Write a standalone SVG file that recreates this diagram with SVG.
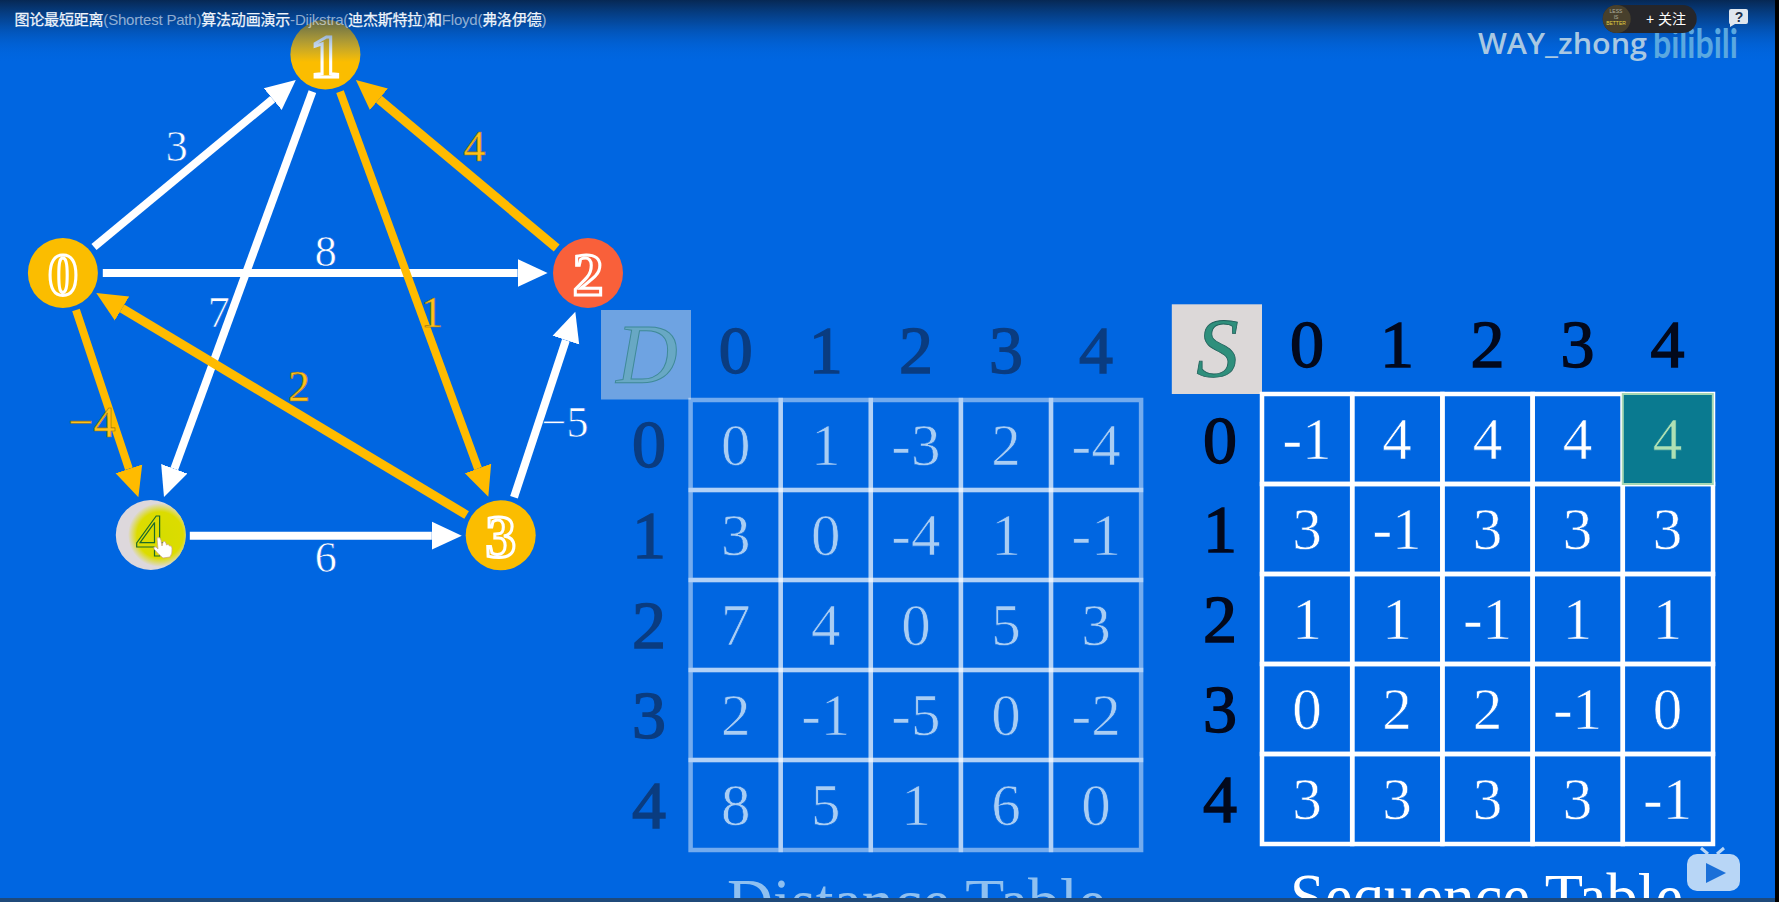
<svg xmlns="http://www.w3.org/2000/svg" width="1779" height="902" viewBox="0 0 1779 902">
<style>
.e{fill:none;stroke-width:8}
.w{stroke:#fff}
.g{stroke:#ffbb00}
.t{stroke-width:9}
text{font-family:"Liberation Serif","Noto Sans CJK SC",serif;text-anchor:middle}
.lb{font-size:44px;stroke:#0066e1;stroke-width:.6px}
.lw{fill:#fff}
.lg{fill:#ffc21a;stroke:#9a7410}
.nd{font-size:61px;font-weight:700;fill:#fbbd00;stroke:#fff;stroke-width:3px}
.nc{fill:#fbbd00}
.hd{font-size:68px;stroke-width:1.5px}
.dh{fill:#0a3c80;stroke:#0a3c80}
.sh{fill:#03091c;stroke:#03091c}
.cd{font-size:59px;fill:#a9cdf3;stroke:#0066e1;stroke-width:.7px}
.cs{font-size:59px;fill:#fff;stroke:#0066e1;stroke-width:.6px}
.dg{fill:none;stroke:#fff;stroke-opacity:.45;stroke-width:4.5}
.sg{fill:none;stroke:#fff;stroke-width:4.5}
.cap{font-size:68px}
.ui{font-family:"Liberation Sans","Noto Sans CJK SC",sans-serif}
</style>
<defs>
<marker id="hw" markerUnits="userSpaceOnUse" markerWidth="32" markerHeight="30" refX="0" refY="15" orient="auto"><path d="M0,1 L30,15 L0,29z" fill="#fff"/></marker>
<marker id="hg" markerUnits="userSpaceOnUse" markerWidth="32" markerHeight="30" refX="0" refY="15" orient="auto"><path d="M0,1 L30,15 L0,29z" fill="#ffbb00"/></marker>
<linearGradient id="top" x1="0" y1="0" x2="0" y2="1"><stop offset="0" stop-color="#07264f" stop-opacity=".97"/><stop offset=".35" stop-color="#07356f" stop-opacity=".6"/><stop offset="1" stop-color="#0066e1" stop-opacity="0"/></linearGradient>
<radialGradient id="yb" gradientUnits="userSpaceOnUse" cx="160" cy="535" r="32"><stop offset="0" stop-color="#d6dc00"/><stop offset=".72" stop-color="#dcdc00"/><stop offset="1" stop-color="#dcdc00" stop-opacity="0"/></radialGradient>
<clipPath id="c4"><circle cx="150.8" cy="535" r="35"/></clipPath>
</defs>
<rect width="1779" height="902" fill="#0066e1"/>

<g id="connectors">
<line class="e w" x1="94" y1="247" x2="272.7" y2="99.1" marker-end="url(#hw)"/>
<line class="e w" x1="102.8" y1="273" x2="517.6" y2="273" marker-end="url(#hw)"/>
<line class="e w" x1="312.4" y1="91.7" x2="174.3" y2="468.8" marker-end="url(#hw)"/>
<line class="e w" x1="514" y1="497.3" x2="565.9" y2="340.2" marker-end="url(#hw)"/>
<line class="e w" x1="189.8" y1="535.7" x2="431.8" y2="535.7" marker-end="url(#hw)"/>
<line class="e g" x1="340" y1="91.7" x2="478" y2="468.5" marker-end="url(#hg)"/>
<line class="e g t" x1="556.7" y1="248" x2="378.9" y2="99.3" marker-end="url(#hg)"/>
<line class="e g" x1="76" y1="310" x2="128.9" y2="468.8" marker-end="url(#hg)"/>
<line class="e g t" x1="466.6" y1="515" x2="122" y2="308.4" marker-end="url(#hg)"/>
</g>

<g id="edge-labels">
<text class="lb lw" x="176.7" y="160.7">3</text>
<text class="lb lg" x="474.5" y="160.7">4</text>
<text class="lb lw" x="325.8" y="265.7">8</text>
<text class="lb lw" x="218.7" y="326.7">7</text>
<text class="lb lg" x="432" y="326.7">1</text>
<text class="lb lg" x="299" y="401">2</text>
<text class="lb lg" x="92" y="436.7">−4</text>
<text class="lb lw" x="565" y="436.7">−5</text>
<text class="lb lw" x="325.8" y="571.7">6</text>
</g>

<g id="node-0"><circle class="nc" cx="62.9" cy="273" r="35"/><text class="nd" x="62.9" y="295">0</text></g>
<g id="node-1"><circle class="nc" cx="325.4" cy="54.5" r="35"/><text class="nd" x="325.4" y="76.7">1</text></g>
<g id="node-2"><circle fill="#f9603a" cx="588" cy="273" r="35"/><text class="nd" x="588" y="295" style="fill:#f9603a">2</text></g>
<g id="node-3"><circle class="nc" cx="500.7" cy="535.3" r="35"/><text class="nd" x="500.7" y="557">3</text></g>
<g id="node-4"><circle fill="#ddd8dc" cx="150.8" cy="535" r="35"/><circle fill="url(#yb)" cx="160" cy="535" r="32" clip-path="url(#c4)"/><text x="150.8" y="556" style="font-size:61px;fill:#dcdc00;stroke:#1c6a2a;stroke-width:1.2px">4</text>
<path d="M157,538 q3,-2 4,2 l1,6 1,-4 q2,-2 3,1 l.5,2 q2,-2 3,1 q2,-1 2.5,2 q.5,6 -2,9 l-7,1 q-4,-3 -9,-9 q-1,-3 2,-2 l2,2z" fill="#fff" stroke="#c9a080" stroke-width=".7"/></g>

<g id="distance-table">
<rect x="601" y="310" width="90" height="89.5" fill="#6ea3e2"/>
<text x="647" y="383" style="font-size:85px;font-style:italic;fill:#68a8c4;stroke:#3f8a98;stroke-width:1px">D</text>
<text class="hd dh" x="735.7" y="372.7">0</text><text class="hd dh" x="825.8" y="372.7">1</text><text class="hd dh" x="915.9" y="372.7">2</text><text class="hd dh" x="1006" y="372.7">3</text><text class="hd dh" x="1096.1" y="372.7">4</text>
<text class="hd dh" x="649" y="467">0</text><text class="hd dh" x="649" y="558">1</text><text class="hd dh" x="649" y="648">2</text><text class="hd dh" x="649" y="738">3</text><text class="hd dh" x="649" y="828">4</text>
<g class="dg">
<rect x="690.6" y="400" width="90.1" height="90"/><rect x="780.7" y="400" width="90.1" height="90"/><rect x="870.8" y="400" width="90.1" height="90"/><rect x="960.9" y="400" width="90.1" height="90"/><rect x="1051" y="400" width="90.1" height="90"/>
<rect x="690.6" y="490" width="90.1" height="90"/><rect x="780.7" y="490" width="90.1" height="90"/><rect x="870.8" y="490" width="90.1" height="90"/><rect x="960.9" y="490" width="90.1" height="90"/><rect x="1051" y="490" width="90.1" height="90"/>
<rect x="690.6" y="580" width="90.1" height="90"/><rect x="780.7" y="580" width="90.1" height="90"/><rect x="870.8" y="580" width="90.1" height="90"/><rect x="960.9" y="580" width="90.1" height="90"/><rect x="1051" y="580" width="90.1" height="90"/>
<rect x="690.6" y="670" width="90.1" height="90"/><rect x="780.7" y="670" width="90.1" height="90"/><rect x="870.8" y="670" width="90.1" height="90"/><rect x="960.9" y="670" width="90.1" height="90"/><rect x="1051" y="670" width="90.1" height="90"/>
<rect x="690.6" y="760" width="90.1" height="90"/><rect x="780.7" y="760" width="90.1" height="90"/><rect x="870.8" y="760" width="90.1" height="90"/><rect x="960.9" y="760" width="90.1" height="90"/><rect x="1051" y="760" width="90.1" height="90"/>
</g>
<text class="cd" x="735.7" y="465">0</text><text class="cd" x="825.8" y="465">1</text><text class="cd" x="915.9" y="465">-3</text><text class="cd" x="1006" y="465">2</text><text class="cd" x="1096.1" y="465">-4</text>
<text class="cd" x="735.7" y="555">3</text><text class="cd" x="825.8" y="555">0</text><text class="cd" x="915.9" y="555">-4</text><text class="cd" x="1006" y="555">1</text><text class="cd" x="1096.1" y="555">-1</text>
<text class="cd" x="735.7" y="645">7</text><text class="cd" x="825.8" y="645">4</text><text class="cd" x="915.9" y="645">0</text><text class="cd" x="1006" y="645">5</text><text class="cd" x="1096.1" y="645">3</text>
<text class="cd" x="735.7" y="735">2</text><text class="cd" x="825.8" y="735">-1</text><text class="cd" x="915.9" y="735">-5</text><text class="cd" x="1006" y="735">0</text><text class="cd" x="1096.1" y="735">-2</text>
<text class="cd" x="735.7" y="825">8</text><text class="cd" x="825.8" y="825">5</text><text class="cd" x="915.9" y="825">1</text><text class="cd" x="1006" y="825">6</text><text class="cd" x="1096.1" y="825">0</text>
<text class="cap" x="916.5" y="925" textLength="379" lengthAdjust="spacingAndGlyphs" fill="#8fc0f0">Distance Table</text>
</g>

<g id="sequence-table">
<rect x="1171.8" y="304.3" width="90.2" height="89.7" fill="#dcd8d8"/>
<text x="1217.5" y="377" style="font-size:85px;font-style:italic;fill:#2f8f7c;stroke:#1f5f5a;stroke-width:.8px">S</text>
<text class="hd sh" x="1307" y="367">0</text><text class="hd sh" x="1397" y="367">1</text><text class="hd sh" x="1487.5" y="367">2</text><text class="hd sh" x="1577.5" y="367">3</text><text class="hd sh" x="1667.6" y="367">4</text>
<text class="hd sh" x="1220" y="462.7">0</text><text class="hd sh" x="1220" y="551.7">1</text><text class="hd sh" x="1220" y="641.7">2</text><text class="hd sh" x="1220" y="731.7">3</text><text class="hd sh" x="1220" y="821.7">4</text>
<g class="sg">
<rect x="1262" y="394" width="90.2" height="90"/><rect x="1352.2" y="394" width="90.2" height="90"/><rect x="1442.4" y="394" width="90.2" height="90"/><rect x="1532.6" y="394" width="90.2" height="90"/><rect x="1622.8" y="394" width="90.2" height="90"/>
<rect x="1262" y="484" width="90.2" height="90"/><rect x="1352.2" y="484" width="90.2" height="90"/><rect x="1442.4" y="484" width="90.2" height="90"/><rect x="1532.6" y="484" width="90.2" height="90"/><rect x="1622.8" y="484" width="90.2" height="90"/>
<rect x="1262" y="574" width="90.2" height="90"/><rect x="1352.2" y="574" width="90.2" height="90"/><rect x="1442.4" y="574" width="90.2" height="90"/><rect x="1532.6" y="574" width="90.2" height="90"/><rect x="1622.8" y="574" width="90.2" height="90"/>
<rect x="1262" y="664" width="90.2" height="90"/><rect x="1352.2" y="664" width="90.2" height="90"/><rect x="1442.4" y="664" width="90.2" height="90"/><rect x="1532.6" y="664" width="90.2" height="90"/><rect x="1622.8" y="664" width="90.2" height="90"/>
<rect x="1262" y="754" width="90.2" height="90"/><rect x="1352.2" y="754" width="90.2" height="90"/><rect x="1442.4" y="754" width="90.2" height="90"/><rect x="1532.6" y="754" width="90.2" height="90"/><rect x="1622.8" y="754" width="90.2" height="90"/>
</g>
<rect x="1622.8" y="394" width="90" height="90" fill="#0a7a90" stroke="#a6d8b4" stroke-width="2"/>
<text class="cs" x="1307" y="459">-1</text><text class="cs" x="1397" y="459">4</text><text class="cs" x="1487.5" y="459">4</text><text class="cs" x="1577.5" y="459">4</text><text class="cs" x="1667.6" y="459" style="fill:#aee0b4;stroke:#0a7a90">4</text>
<text class="cs" x="1307" y="549">3</text><text class="cs" x="1397" y="549">-1</text><text class="cs" x="1487.5" y="549">3</text><text class="cs" x="1577.5" y="549">3</text><text class="cs" x="1667.6" y="549">3</text>
<text class="cs" x="1307" y="639">1</text><text class="cs" x="1397" y="639">1</text><text class="cs" x="1487.5" y="639">-1</text><text class="cs" x="1577.5" y="639">1</text><text class="cs" x="1667.6" y="639">1</text>
<text class="cs" x="1307" y="729">0</text><text class="cs" x="1397" y="729">2</text><text class="cs" x="1487.5" y="729">2</text><text class="cs" x="1577.5" y="729">-1</text><text class="cs" x="1667.6" y="729">0</text>
<text class="cs" x="1307" y="819">3</text><text class="cs" x="1397" y="819">3</text><text class="cs" x="1487.5" y="819">3</text><text class="cs" x="1577.5" y="819">3</text><text class="cs" x="1667.6" y="819">-1</text>
<text class="cap" x="1486.5" y="920" textLength="393" lengthAdjust="spacingAndGlyphs" fill="#fff">Sequence Table</text>
</g>

<g id="player-overlay">
<rect x="0" y="0" width="1779" height="62" fill="url(#top)"/>
<rect x="0" y="898" width="1779" height="4" fill="#1f4a7a"/>
<rect x="1775" y="0" width="4" height="902" fill="#000"/>
<text class="ui" x="280.5" y="25" textLength="532" lengthAdjust="spacing" style="font-size:15px;fill:#f0f5fb;stroke:#f0f5fb;stroke-width:.25px">图论最短距离<tspan style="fill-opacity:.6;stroke-width:0">(Shortest Path)</tspan>算法动画演示<tspan style="fill-opacity:.6;stroke-width:0">-Dijkstra(</tspan>迪杰斯特拉<tspan style="fill-opacity:.6;stroke-width:0">)</tspan>和<tspan style="fill-opacity:.6;stroke-width:0">Floyd(</tspan>弗洛伊德<tspan style="fill-opacity:.6;stroke-width:0">)</tspan></text>
<text x="1562.5" y="54" textLength="169" lengthAdjust="spacingAndGlyphs" style="font-family:'Open Sans',sans-serif;font-size:29px;font-weight:600;fill:#a9c8e2">WAY_zhong</text>
<text x="1695.5" y="58" textLength="85" lengthAdjust="spacingAndGlyphs" style="font-family:Lato,sans-serif;font-size:40px;font-weight:700;fill:#5aa8e0">bilibili</text>
<rect x="1602.7" y="5" width="94" height="28" rx="14" fill="#26262a"/>
<circle cx="1616.7" cy="19" r="14" fill="#48402c"/>
<text class="ui" x="1616" y="13" style="font-size:5px;fill:#b0b0a0">LESS</text><text class="ui" x="1616" y="19" style="font-size:5px;fill:#b0b0a0">IS</text><text class="ui" x="1616" y="25" style="font-size:5px;fill:#e0d040">BETTER</text>
<text class="ui" x="1666" y="24" style="font-size:14px;fill:#fff">+ 关注</text>
<path d="M1731,9 h15 q2,0 2,2 v11 q0,2 -2,2 h-11 l-5,3 v-3 q-1,0 -1,-2 v-11 q0,-2 2,-2z" fill="#dfe6ee"/>
<text class="ui" x="1739" y="22" style="font-size:14px;font-weight:700;fill:#20304a">?</text>
<path d="M1701,848 l7,6 M1724,848 l-7,6" stroke="#b8d6f6" stroke-width="3" fill="none"/>
<rect x="1687" y="854" width="53" height="37" rx="10" fill="#b8d6f6"/>
<path d="M1706,863 L1726,873 L1706,883z" fill="#1a6fd8"/>
</g>
</svg>
